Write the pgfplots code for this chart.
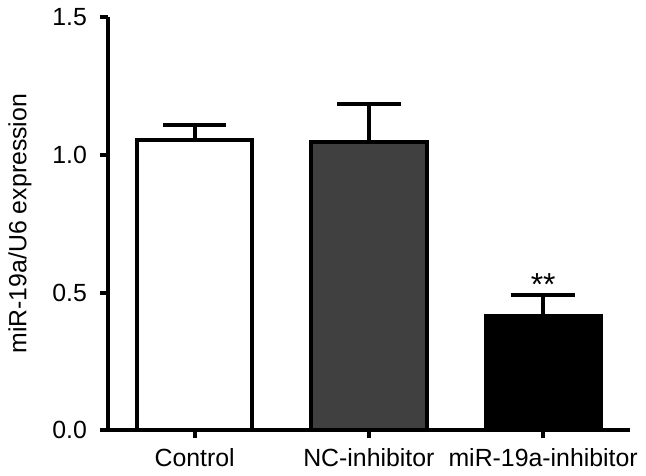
\documentclass[border=0pt]{standalone}
\usepackage{pgfplots}
\pgfplotsset{compat=1.18}
\usepackage{fontspec}
\setmainfont{Liberation Sans}

\definecolor{ncgray}{HTML}{404040}

\pgfplotsset{
    errplus/.style={
        error bars/y dir=plus,
        error bars/y explicit,
        error bars/error bar style={line width=2pt, black},
        error bars/error mark options={rotate=90, mark size=16pt, line width=2pt, black},
    },
}

\begin{document}
\fontsize{12.5pt}{14pt}\selectfont
\begin{tikzpicture}
    \begin{axis}[
        scale only axis,
        width  = 263pt,
        height = 208pt,
        axis lines* = left,
        axis line style = {line width=2pt},
        tick style = {line width=2pt, black},
        major tick length = 4pt,
        tick align = outside,
        xmin = -0.5, xmax = 2.5,
        ymin = 0, ymax = 1.5,
        xtick = {0,1,2},
        xticklabels = {Control, NC-inhibitor, miR-19a-inhibitor},
        ytick = {0,0.5,1,1.5},
        yticklabel style = {xshift=-2pt, /pgf/number format/.cd, fixed, fixed zerofill, precision=1},
        xticklabel style = {yshift=-1pt},
        /pgf/number format/assume math mode=true,
        ylabel = {miR-19a/U6 expression},
        ylabel style = {yshift=2pt},
        ybar,
        bar width = 58pt,
        bar shift = 0pt,
        clip = false,
    ]
        \addplot[draw=black, line width=2pt, fill=white, errplus] coordinates {(0,1.055) +- (0,0.052)};
        \addplot[draw=black, line width=2pt, fill=ncgray, errplus] coordinates {(1,1.047) +- (0,0.136)};
        \addplot[draw=black, line width=2pt, fill=black, errplus] coordinates {(2,0.416) +- (0,0.074)};
        \node[anchor=base, inner sep=0pt, font=\fontsize{16pt}{18pt}\selectfont] at (axis cs:2,0.49) {**};
    \end{axis}
\end{tikzpicture}
\end{document}
